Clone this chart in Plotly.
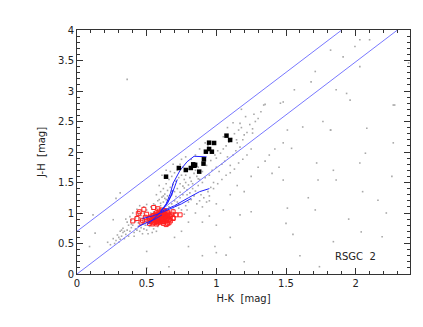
import plotly.graph_objects as go

# field stars (gray dots): H-K, J-H
FIELD_HK = [
    0.52, 0.55, 0.57, 0.60, 0.62, 0.64, 0.66, 0.68, 0.70, 0.72,
    0.58, 0.61, 0.63, 0.65, 0.67, 0.69, 0.71, 0.73, 0.75, 0.77,
    0.74, 0.76, 0.78, 0.80, 0.82, 0.79, 0.81, 0.83, 0.85, 0.87,
    0.88, 0.86, 0.84, 0.90, 0.92, 0.89, 0.91, 0.94, 0.96, 0.98,
    0.55, 0.53, 0.50, 0.48, 0.46, 0.51, 0.49, 0.47, 0.44, 0.42,
    0.66, 0.68, 0.70, 0.72, 0.74, 0.76, 0.73, 0.75, 0.78, 0.80,
    0.82, 0.84, 0.71, 0.69, 0.77, 0.79, 0.86, 0.88, 0.93, 0.95,
    0.62, 0.60, 0.64, 0.66, 0.68, 0.70, 0.72, 0.76, 0.80, 0.83,
    0.57, 0.59, 0.63, 0.67, 0.74, 0.78, 0.81, 0.85, 0.87, 0.90,
    0.56, 0.54, 0.59, 0.61, 0.65, 0.63, 0.67, 0.69, 0.71, 0.73,
    0.28, 0.30, 0.32, 0.33, 0.35, 0.36, 0.38, 0.39, 0.40, 0.41,
    0.43, 0.44, 0.45, 0.46, 0.47, 0.48, 0.49, 0.50, 0.52, 0.53,
    0.34, 0.37, 0.39, 0.42, 0.44, 0.46, 0.48, 0.50, 0.36, 0.38,
    0.30, 0.27, 0.31, 0.33, 0.35, 0.40, 0.43, 0.45, 0.41, 0.47,
    0.55, 0.57, 0.51, 0.29, 0.26, 0.24, 0.22, 0.37, 0.54, 0.58,
    0.95, 0.97, 1.00, 1.02, 1.04, 1.06, 1.08, 1.10, 1.12, 1.14,
    1.00, 1.03, 1.05, 1.07, 1.09, 1.11, 1.13, 1.16, 1.18, 1.20,
    0.93, 0.96, 0.99, 1.01, 1.15, 1.17, 1.19, 1.22, 1.24, 1.26,
    0.98, 1.01, 1.04, 1.07, 1.10, 1.13, 1.16, 1.19, 1.22, 1.25,
    1.28, 1.30, 1.21, 1.27, 1.32, 1.12, 1.08, 1.18, 1.35, 1.05,
    1.34, 1.46, 1.17, 1.26, 1.145, 1.48, 1.54, 1.48, 1.72, 1.82,
    2.07, 2.27, 2.16, 2.22, 2.04, 2.19, 1.84, 1.71, 1.50, 1.51,
    1.17, 1.25, 2.27, 1.73, 1.86, 2.26, 1.84, 2.03,
    2.03, 2.10, 1.82, 1.91, 1.995, 2.03, 1.71, 1.68, 1.56, 1.86,
    1.935, 1.96, 2.28, 1.48, 1.765, 2.08, 1.62, 1.82, 1.51, 2.38,
    0.36, 0.28, 0.31, 0.115, 0.26, 0.32, 0.50, 0.09, 0.13,
    0.85, 0.90, 0.95, 1.00, 1.05, 0.90, 0.80, 1.10, 1.15, 1.20,
    1.00, 0.95, 1.25, 1.30, 1.35, 1.38, 1.42, 1.40, 1.45, 1.10,
    0.70, 0.75, 0.80, 0.90, 1.20, 1.60, 1.95, 2.05, 1.66, 1.55,
    0.66, 1.00, 1.07, 0.99, 0.50, 1.74,
    0.85, 0.88, 0.92, 0.82, 0.78, 0.64, 0.61, 0.69, 0.75, 0.94,
    0.65, 0.68, 0.71, 0.74, 0.77, 0.60, 0.63, 0.79, 0.83, 0.87,
    0.53, 0.56, 0.59, 0.62, 0.45, 0.42, 0.39, 0.34, 0.31, 0.48,
]
FIELD_JH = [
    0.95, 1.02, 1.08, 1.12, 1.18, 1.22, 1.25, 1.30, 1.35, 1.40,
    1.20, 1.26, 1.31, 1.37, 1.42, 1.47, 1.52, 1.58, 1.62, 1.55,
    1.48, 1.44, 1.50, 1.46, 1.52, 1.38, 1.33, 1.40, 1.36, 1.45,
    1.55, 1.60, 1.65, 1.50, 1.58, 1.30, 1.25, 1.35, 1.42, 1.50,
    1.15, 1.10, 1.05, 1.00, 0.96, 0.90, 0.86, 0.82, 0.78, 0.74,
    1.10, 1.15, 1.20, 1.18, 1.25, 1.30, 1.08, 1.05, 1.12, 1.18,
    1.22, 1.28, 1.00, 0.98, 0.98, 1.05, 1.15, 1.20, 1.18, 1.28,
    1.40, 1.35, 1.48, 1.55, 1.60, 1.66, 1.70, 1.75, 1.72, 1.78,
    1.30, 1.45, 1.58, 1.68, 1.80, 1.62, 1.58, 1.70, 1.75, 1.68,
    0.98, 1.06, 1.03, 1.07, 1.04, 0.98, 1.01, 1.06, 1.12, 1.14,
    0.55, 0.60, 0.62, 0.68, 0.65, 0.72, 0.70, 0.76, 0.80, 0.68,
    0.72, 0.84, 0.70, 0.76, 0.88, 0.74, 0.80, 0.72, 0.78, 0.84,
    0.58, 0.80, 0.88, 0.92, 0.98, 1.04, 1.10, 1.14, 0.85, 0.94,
    0.52, 0.50, 0.70, 0.75, 0.90, 1.00, 1.06, 1.12, 0.62, 0.66,
    0.74, 0.70, 0.66, 0.64, 0.58, 0.48, 0.52, 0.62, 0.68, 0.78,
    1.62, 1.70, 1.75, 1.68, 1.80, 1.85, 1.92, 1.78, 1.95, 2.02,
    1.90, 1.98, 2.05, 2.10, 2.16, 2.22, 2.30, 2.36, 2.40, 2.28,
    1.78, 1.86, 1.95, 2.02, 2.15, 2.08, 2.20, 2.32, 2.45, 2.38,
    1.40, 1.48, 1.55, 1.62, 1.66, 1.72, 1.82, 1.88, 1.95, 2.05,
    2.50, 2.55, 2.58, 2.62, 2.66, 2.48, 2.40, 2.70, 2.78, 2.25,
    2.77, 2.80, 2.47, 2.31, 2.20, 2.15, 2.06, 1.54, 1.82, 2.36,
    1.98, 2.15, 1.21, 1.00, 0.69, 0.61, 0.53, 1.05, 0.83, 1.08,
    0.97, 1.02, 2.77, 1.54, 1.54, 1.60, 1.70, 1.82,
    3.84, 3.84, 3.67, 3.56, 3.73, 3.40, 3.32, 3.15, 3.02, 3.02,
    2.96, 2.85, 2.77, 2.82, 2.50, 2.39, 2.41, 2.36, 2.36, 3.46,
    3.19, 1.24, 1.33, 0.97, 0.89, 0.72, 0.10, 0.45, 0.67,
    1.00, 1.10, 0.95, 1.15, 1.05, 0.85, 0.85, 1.30, 1.45, 1.35,
    0.80, 1.20, 1.60, 1.75, 1.85, 1.95, 2.05, 1.65, 1.75, 0.60,
    0.60, 0.70, 0.45, 0.30, 0.20, 0.30, 0.90, 1.35, 1.25, 0.65,
    0.12, 0.35, 0.31, 0.45, 0.37, 0.12,
    1.95, 2.05, 2.15, 1.88, 1.92, 1.70, 1.62, 1.80, 1.88, 2.10,
    1.28, 1.36, 1.27, 1.34, 1.41, 1.16, 1.24, 1.30, 1.48, 1.56,
    1.00, 1.13, 1.22, 1.28, 0.92, 0.86, 0.82, 0.70, 0.57, 0.94,
]

# cluster members (red open squares)
RED_HK = [
    0.55, 0.56, 0.57, 0.58, 0.59, 0.60, 0.61, 0.62, 0.63, 0.64,
    0.55, 0.57, 0.59, 0.61, 0.63, 0.65, 0.66, 0.64, 0.62, 0.60,
    0.58, 0.56, 0.54, 0.53, 0.52, 0.54, 0.56, 0.58, 0.60, 0.62,
    0.57, 0.59, 0.61, 0.63, 0.60, 0.58, 0.62, 0.65, 0.67, 0.66,
    0.53, 0.55, 0.57, 0.59, 0.61, 0.63, 0.65, 0.68, 0.69, 0.67,
    0.51, 0.52, 0.54, 0.56, 0.58, 0.60, 0.64, 0.66, 0.62, 0.57,
    0.40, 0.44, 0.45, 0.48, 0.49, 0.47, 0.55, 0.58, 0.65, 0.64,
    0.69, 0.71, 0.74, 0.69, 0.50, 0.43, 0.46,
    0.585, 0.595, 0.605, 0.615, 0.625, 0.575, 0.565, 0.635, 0.645, 0.555,
    0.59, 0.60, 0.61, 0.62, 0.58, 0.57, 0.60, 0.63, 0.56, 0.61,
]
RED_JH = [
    0.88, 0.92, 0.95, 0.90, 0.93, 0.96, 0.92, 0.95, 0.98, 0.94,
    0.84, 0.86, 0.87, 0.88, 0.90, 0.92, 0.96, 1.00, 1.02, 1.00,
    0.98, 0.97, 0.90, 0.86, 0.83, 0.82, 0.85, 0.84, 0.85, 0.86,
    0.91, 0.95, 0.97, 0.93, 0.90, 0.93, 0.90, 0.97, 0.94, 0.89,
    0.93, 0.96, 1.00, 1.03, 1.05, 1.04, 1.01, 0.98, 0.92, 0.87,
    0.88, 0.91, 0.95, 0.89, 0.87, 0.88, 0.87, 0.84, 0.83, 0.82,
    0.87, 0.99, 1.02, 1.06, 0.93, 0.88, 1.09, 1.07, 0.83, 0.81,
    0.91, 0.97, 0.97, 1.02, 0.98, 0.91, 0.85,
    0.915, 0.925, 0.935, 0.945, 0.955, 0.905, 0.895, 0.965, 0.905, 0.915,
    0.89, 0.94, 0.99, 0.92, 0.96, 0.88, 0.91, 0.96, 0.94, 0.86,
]

# red supergiants (black squares)
RSG_HK = [0.639, 0.731, 0.781, 0.817, 0.834, 0.848, 0.843, 0.877, 0.908,
          0.911, 0.925, 0.948, 0.948, 0.968, 0.984, 1.073, 1.099]
RSG_JH = [1.595, 1.738, 1.705, 1.738, 1.798, 1.790, 1.775, 1.678, 1.809,
          1.880, 2.005, 2.049, 2.153, 2.005, 2.148, 2.268, 2.197]

# reddening band (upper / lower boundary)
BAND_UP_HK = [0.0, 1.90]
BAND_UP_JH = [0.70, 4.0]
BAND_LO_HK = [0.0, 2.30]
BAND_LO_JH = [0.0, 4.0]

# model tracks (blue)
TRACKS = [
    ([0.50, 0.55, 0.60, 0.64, 0.67, 0.69, 0.74, 0.79, 0.84, 0.93],
     [0.80, 0.90, 1.02, 1.15, 1.32, 1.49, 1.70, 1.84, 1.93, 1.92]),
    ([0.60, 0.65, 0.68, 0.70, 0.72],
     [1.02, 1.16, 1.30, 1.44, 1.55]),
    ([0.60, 0.64, 0.67, 0.69],
     [1.03, 1.14, 1.26, 1.38]),
    ([0.60, 0.70, 0.80, 0.88, 0.95],
     [1.02, 1.12, 1.25, 1.35, 1.40]),
    ([0.60, 0.68, 0.75, 0.82],
     [1.00, 1.08, 1.15, 1.24]),
    ([0.44, 0.50, 0.56, 0.61],
     [0.78, 0.84, 0.90, 0.97]),
    ([0.47, 0.54, 0.60],
     [0.91, 0.95, 1.00]),
]

FONT = "DejaVu Sans"


def main():
    fig = go.Figure()
    fig.add_trace(go.Scatter(x=FIELD_HK, y=FIELD_JH, mode="markers",
                             marker=dict(symbol="square", size=1.6, color="#a8a8a8",
                                         line=dict(width=0))))
    for hk, jh in [(BAND_UP_HK, BAND_UP_JH), (BAND_LO_HK, BAND_LO_JH)]:
        fig.add_trace(go.Scatter(x=hk, y=jh, mode="lines",
                                 line=dict(color="#7878ff", width=1)))
    fig.add_trace(go.Scatter(x=RED_HK, y=RED_JH, mode="markers",
                             marker=dict(symbol="square-open", size=4, color="#ff2020",
                                         line=dict(width=1))))
    for hk, jh in TRACKS:
        fig.add_trace(go.Scatter(x=hk, y=jh, mode="lines",
                                 line=dict(color="#2020ff", width=1)))
    fig.add_trace(go.Scatter(x=RSG_HK, y=RSG_JH, mode="markers",
                             marker=dict(symbol="square", size=4.5, color="black")))

    fig.add_annotation(x=2.0, y=0.29, text="RSGC  2", showarrow=False,
                       font=dict(size=10, color="#222"))

    ax = dict(showgrid=False, zeroline=False, showline=True, linecolor="#333",
              linewidth=1, mirror="ticks", ticks="inside", ticklen=6,
              tickcolor="#333", tickfont=dict(size=10, color="#222"),
              automargin=False)
    fig.update_xaxes(**ax, range=[0, 2.39], dtick=0.5,
                     minor=dict(dtick=0.1, ticks="inside", ticklen=3, tickcolor="#333"),
                     title=dict(text="H-K  [mag]", standoff=6,
                                font=dict(size=10, color="#222")))
    fig.update_yaxes(**ax, range=[0, 4], dtick=0.5,
                     minor=dict(dtick=0.1, ticks="inside", ticklen=3, tickcolor="#333"),
                     title=dict(text="J-H  [mag]", standoff=10,
                                font=dict(size=10, color="#222")))
    # page body adds an 8px offset, margins compensate for it
    fig.update_layout(width=423, height=327, showlegend=False,
                      margin=dict(l=69, r=21, t=22, b=61),
                      paper_bgcolor="white", plot_bgcolor="white",
                      font=dict(family=FONT))
    fig.write_html("out.html")


if __name__ == "__main__":
    main()
